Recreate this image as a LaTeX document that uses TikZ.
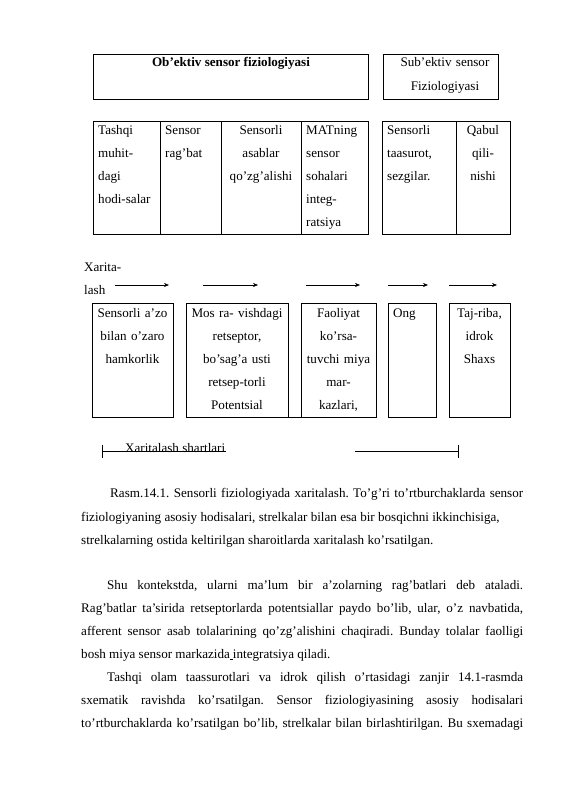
\documentclass[tikz,border=0pt]{standalone}
\usepackage{fontspec}
\setmainfont{Liberation Serif}
\usetikzlibrary{arrows.meta}
\begin{document}
\frenchspacing
\begin{tikzpicture}[x=1pt,y=-1pt,
  box/.style={draw, line width=0.6pt, inner sep=0pt, anchor=north west},
  txt/.style={inner sep=0pt, font=\fontsize{13.1}{23}\selectfont},
  ctxt/.style={txt, align=center, anchor=base},
  ltxt/.style={txt, align=left, anchor=base west},
  arr/.style={-{Stealth[length=5pt,width=4pt]}, line width=0.6pt},
  bline/.style={inner sep=0pt, anchor=base west, font=\fontsize{13.1}{15}\selectfont},
  rule/.style={line width=0.6pt}]
\useasboundingbox[fill=white] (0,0) rectangle (565,800);
% top boxes
\node[box, minimum width=275pt, minimum height=45pt] (obj) at (93,54) {};
\node[txt, anchor=base, font=\fontsize{13.1}{23}\selectfont\bfseries] (objt) at (231,66.5) {Ob’ektiv sensor fiziologiyasi};
\node[box, minimum width=115pt, minimum height=45pt] (sub) at (383,54) {};
\node[ctxt, text width=112pt, font=\fontsize{13.1}{24}\selectfont] (subt) at (445,66.5) {Sub’ektiv sensor\\Fiziologiyasi};
% table 1
\node[box, minimum width=67pt, minimum height=113pt] (c11) at (93,121) {};
\node[box, minimum width=61pt, minimum height=113pt] (c12) at (160,121) {};
\node[box, minimum width=80pt, minimum height=113pt] (c13) at (221,121) {};
\node[box, minimum width=67pt, minimum height=113pt] (c14) at (301,121) {};
\node[ltxt, text width=64pt] (t11) at (98,134.5) {Tashqi\\muhit-\\dagi\\hodi-salar};
\node[ltxt, text width=58pt] (t12) at (165,134.5) {Sensor\\rag’bat};
\node[ctxt, text width=80pt] (t13) at (261,134.5) {Sensorli\\asablar\\qo’zg’alishi};
\node[ltxt, text width=62pt] (t14) at (306,134.5) {MATning\\sensor\\sohalari\\integ-\\ratsiya};
% table 2
\node[box, minimum width=74pt, minimum height=113pt] (c21) at (382,121) {};
\node[box, minimum width=54pt, minimum height=113pt] (c22) at (456,121) {};
\node[ltxt, text width=70pt] (t21) at (387,134.5) {Sensorli\\taasurot,\\sezgilar.};
\node[ctxt, text width=52pt] (t22) at (483,134.5) {Qabul\\qili-\\nishi};
% xaritalash arrows
\node[ltxt, text width=40pt] (xl) at (84,271) {Xarita-\\lash};
\coordinate (a1s) at (115,285); \coordinate (a1e) at (169,285);
\coordinate (a2s) at (203,285); \coordinate (a2e) at (258,285);
\coordinate (a3s) at (306,285); \coordinate (a3e) at (360,285);
\coordinate (a4s) at (388,285); \coordinate (a4e) at (428,285);
\coordinate (a5s) at (449,285); \coordinate (a5e) at (497,285);
\draw[arr] (a1s) -- (a1e);
\draw[arr] (a2s) -- (a2e);
\draw[arr] (a3s) -- (a3e);
\draw[arr] (a4s) -- (a4e);
\draw[arr] (a5s) -- (a5e);
% row 3 boxes
\node[box, minimum width=81pt, minimum height=114pt] (b1) at (92,303) {};
\node[box, minimum width=102pt, minimum height=114pt] (b2) at (186,303) {};
\node[box, minimum width=75pt, minimum height=114pt] (b3) at (301,303) {};
\node[box, minimum width=48pt, minimum height=114pt] (b4) at (388,303) {};
\node[box, minimum width=61pt, minimum height=114pt] (b5) at (449,303) {};
\draw[rule] (b2.south east) -- (b3.south west);
\node[ctxt, text width=84pt] (bt1) at (132.5,317) {Sensorli a’zo\\bilan o’zaro\\hamkorlik};
\node[ctxt, text width=104pt] (bt2) at (237,317) {Mos ra- vishdagi\\retseptor,\\bo’sag’a usti\\retsep-torli\\Potentsial};
\node[ctxt, text width=78pt] (bt3) at (338.5,317) {Faoliyat\\ko’rsa-\\tuvchi miya\\mar-\\kazlari,};
\node[ltxt, text width=44pt] (bt4) at (393,317) {Ong};
\node[ctxt, text width=64pt] (bt5) at (479.5,317) {Taj-riba,\\idrok\\Shaxs};
% xaritalash shartlari
\coordinate (l1) at (102,451); \coordinate (l2) at (226,451);
\coordinate (r1) at (355,451); \coordinate (r2) at (458,451);
\draw[rule] (l1) -- (l2);
\draw[rule] (r1) -- (r2);
\draw[rule] ([yshift=-6.5pt]l1) -- ([yshift=6.5pt]l1);
\draw[rule] ([yshift=-6.5pt]r2) -- ([yshift=6.5pt]r2);
\node[bline] (xs) at (125,452) {Xaritalash shartlari};
% caption
\node[bline] (p1a) at (110,497.5) {\hbox to 413pt{Rasm.14.1. Sensorli fiziologiyada xaritalash. To’g’ri to’rtburchaklarda sensor}};
\node[bline] (p1b) at (81,521) {fiziologiyaning asosiy hodisalari, strelkalar bilan esa bir bosqichni ikkinchisiga,};
\node[bline] (p1c) at (81,544.5) {strelkalarning ostida keltirilgan sharoitlarda xaritalash ko’rsatilgan.};
% paragraph 2
\node[bline] (p2a) at (107,589) {\hbox to 416pt{Shu kontekstda, ularni ma’lum bir a’zolarning rag’batlari deb ataladi.}};
\node[bline] (p2b) at (81,612) {\hbox to 442pt{Rag’batlar ta’sirida retseptorlarda potentsiallar paydo bo’lib, ular, o’z navbatida,}};
\node[bline] (p2c) at (81,635) {\hbox to 442pt{afferent sensor asab tolalarining qo’zg’alishini chaqiradi. Bunday tolalar faolligi}};
\node[bline] (p2d) at (81,658) {bosh miya sensor markazida\underline{\hspace{3pt}}integratsiya qiladi.};
% paragraph 3
\node[bline] (p3a) at (107,681) {\hbox to 416pt{Tashqi olam taassurotlari va idrok qilish o’rtasidagi zanjir 14.1-rasmda}};
\node[bline] (p3b) at (81,704) {\hbox to 442pt{sxematik ravishda ko’rsatilgan. Sensor fiziologiyasining asosiy hodisalari}};
\node[bline] (p3c) at (81,727) {\hbox to 442pt{to’rtburchaklarda ko’rsatilgan bo’lib, strelkalar bilan birlashtirilgan. Bu sxemadagi}};
\end{tikzpicture}
\end{document}
